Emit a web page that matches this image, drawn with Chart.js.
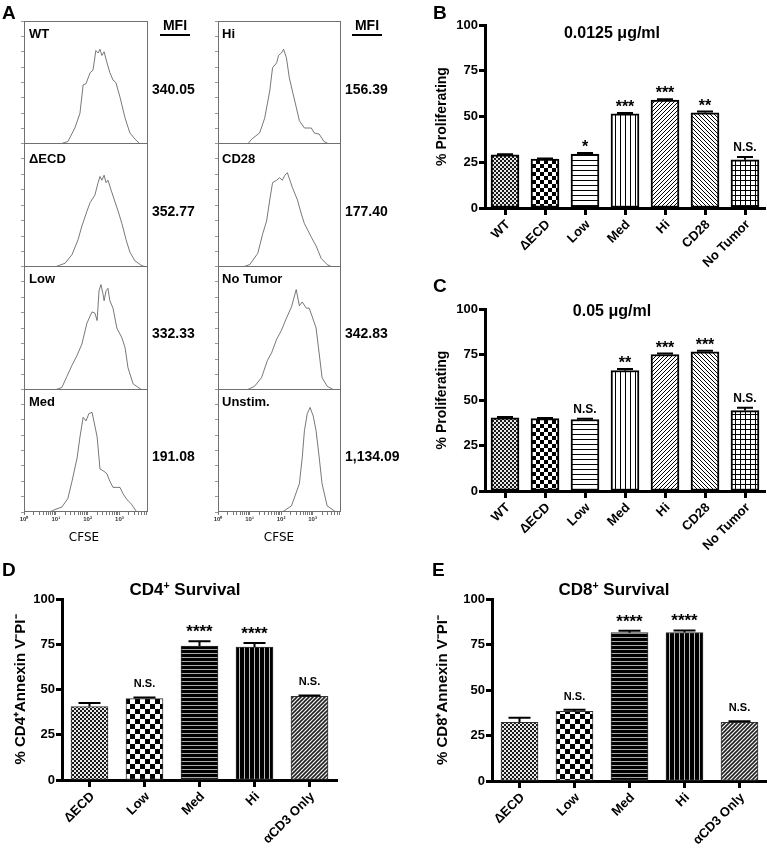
<!DOCTYPE html>
<html><head><meta charset="utf-8">
<script src="https://cdn.jsdelivr.net/npm/chart.js@4.4.1/dist/chart.umd.min.js"></script>
<style>
body{margin:0;background:#fff;width:767px;height:848px;position:relative;overflow:hidden;font-family:"Liberation Sans",Arial,sans-serif;}
.t{position:absolute;white-space:nowrap;line-height:1;color:#000;}
.t sup{font-size:62%;vertical-align:0;position:relative;top:-0.55em;}
canvas{position:absolute;}
.ul{position:absolute;height:2px;background:#000;}
</style></head><body>
<script>
// ---------------- DATA ----------------
// Panel A: CFSE histograms, x = log10(CFSE), y = relative count (0-100 of panel height)
const histWT = [[1.13,0],[1.38,2],[1.60,13],[1.76,25],[1.86,48],[1.95,49],[2.08,58],[2.17,60],[2.26,76],[2.33,74],[2.39,77],[2.45,72],[2.52,75],[2.61,66],[2.70,58],[2.80,52],[2.89,50],[3.02,38],[3.18,21],[3.33,9],[3.49,4],[3.65,0]];
const histDECD = [[0.97,0],[1.29,3],[1.51,10],[1.70,22],[1.82,33],[1.98,45],[2.08,52],[2.23,58],[2.33,68],[2.39,73],[2.45,70],[2.52,74],[2.58,68],[2.64,70],[2.74,62],[2.83,55],[2.96,45],[3.08,35],[3.21,22],[3.33,12],[3.49,5],[3.71,1],[3.87,0]];
const histLow = [[0.97,0],[1.19,2],[1.35,11],[1.51,20],[1.67,28],[1.82,37],[1.98,54],[2.14,63],[2.23,62],[2.30,56],[2.36,80],[2.42,85],[2.48,78],[2.52,72],[2.58,80],[2.64,82],[2.70,72],[2.80,66],[2.92,50],[3.08,42],[3.18,34],[3.27,18],[3.43,5],[3.71,0]];
const histMed = [[0.82,0],[0.97,2],[1.19,4],[1.38,11],[1.51,25],[1.67,44],[1.76,61],[1.86,77],[1.95,74],[2.04,80],[2.14,81],[2.23,70],[2.30,61],[2.39,35],[2.52,33],[2.61,31],[2.70,25],[2.80,20],[2.92,20],[3.02,20],[3.11,15],[3.24,10],[3.36,7],[3.55,0]];
const histHi = [[0.94,0],[1.07,4],[1.32,9],[1.48,21],[1.64,43],[1.73,62],[1.86,66],[1.92,72],[2.01,74],[2.08,77],[2.17,70],[2.26,54],[2.36,43],[2.48,30],[2.58,19],[2.74,13],[2.96,13],[3.05,9],[3.21,8],[3.36,2],[3.52,0]];
const histCD28 = [[0.79,0],[1.01,2],[1.26,11],[1.42,27],[1.54,37],[1.64,54],[1.73,68],[1.86,70],[1.95,72],[2.04,70],[2.12,74],[2.20,76],[2.28,70],[2.36,64],[2.52,54],[2.64,43],[2.74,35],[2.96,24],[3.11,17],[3.27,7],[3.46,2],[3.62,0]];
const histNoTumor = [[0.91,0],[1.16,3],[1.38,10],[1.57,24],[1.70,30],[1.86,41],[2.01,48],[2.17,58],[2.33,67],[2.48,81],[2.58,68],[2.67,71],[2.80,66],[2.89,66],[2.99,59],[3.11,50],[3.21,29],[3.30,10],[3.46,3],[3.68,0]];
const histUnstim = [[1.80,0],[2.04,0],[2.33,5],[2.58,23],[2.67,44],[2.74,66],[2.83,80],[2.92,85],[3.02,78],[3.11,66],[3.21,44],[3.30,23],[3.46,5],[3.74,0]];
const histNamesL = ['WT','ΔECD','Low','Med'];
const histNamesR = ['Hi','CD28','No Tumor','Unstim.'];
const mfiL = ['340.05','352.77','332.33','191.08'];
const mfiR = ['156.39','177.40','342.83','1,134.09'];
const decadeLabels = ['10\u2070','10\u00b9','10\u00b2','10\u00b3'];

// Panels B, C
const catsBC = ['WT','ΔECD','Low','Med','Hi','CD28','No Tumor'];
const valsB = [29, 26.8, 29.5, 51.4, 59, 52, 26.3];
const errB  = [0.4, 0.3, 0.5, 0.5, 0.4, 0.7, 1.6];
const sigB  = ['', '', '*', '***', '***', '**', 'N.S.'];
const valsC = [40.2, 39.8, 39.3, 66.2, 75, 76.5, 44.2];
const errC  = [0.5, 0.3, 0.4, 0.8, 0.5, 0.6, 1.5];
const sigC  = ['', '', 'N.S.', '**', '***', '***', 'N.S.'];
// Panels D, E
const catsDE = ['ΔECD','Low','Med','Hi','αCD3 Only'];
const valsD = [40.6, 45, 74, 73.5, 46.2];
const errD  = [2.0, 0.6, 2.7, 2.2, 0.5];
const sigD  = ['', 'N.S.', '****', '****', 'N.S.'];
const valsE = [32.3, 38.3, 81.5, 81.6, 32.3];
const errE  = [2.4, 0.8, 1.0, 1.1, 0.5];
const sigE  = ['', 'N.S.', '****', '****', 'N.S.'];
const yTicks = [0, 25, 50, 75, 100];

// ---------------- HELPERS ----------------
const FONT = '"Liberation Sans", Arial, Helvetica, sans-serif';
Chart.defaults.font.family = FONT;
Chart.defaults.color = '#000';

function txt(html, x, cy, size, weight, align, family) {
  const d = document.createElement('div');
  d.className = 't';
  d.innerHTML = html;
  d.style.fontSize = size + 'px';
  d.style.fontWeight = weight;
  if (family) d.style.fontFamily = family;
  d.style.left = x + 'px';
  d.style.top = cy + 'px';
  const tx = align === 'center' ? '-50%' : align === 'right' ? '-100%' : '0';
  d.style.transform = `translate(${tx},-50%)`;
  document.body.appendChild(d);
}
function rule(x, y, w) {
  const d = document.createElement('div');
  d.className = 'ul';
  d.style.left = x + 'px'; d.style.top = y + 'px'; d.style.width = w + 'px';
  document.body.appendChild(d);
}
function mkCanvas(left, top, w, h) {
  const c = document.createElement('canvas');
  c.width = w; c.height = h;
  c.style.left = left + 'px'; c.style.top = top + 'px';
  document.body.appendChild(c);
  return c;
}

function pattern(kind) {
  const c = document.createElement('canvas');
  const x = c.getContext('2d');
  let s;
  const diag = (s, lw, col, up) => {
    x.strokeStyle = col; x.lineWidth = lw; x.beginPath();
    if (up) {
      x.moveTo(0, s); x.lineTo(s, 0);
      x.moveTo(-1, 1); x.lineTo(1, -1);
      x.moveTo(s - 1, s + 1); x.lineTo(s + 1, s - 1);
    } else {
      x.moveTo(0, 0); x.lineTo(s, s);
      x.moveTo(-1, s - 1); x.lineTo(1, s + 1);
      x.moveTo(s - 1, -1); x.lineTo(s + 1, 1);
    }
    x.stroke();
  };
  switch (kind) {
    case 'fine':
      s = 4; c.width = c.height = s;
      x.fillStyle = '#e8e8e8'; x.fillRect(0, 0, s, s);
      x.fillStyle = '#1a1a1a'; x.fillRect(0, 0, 2, 2); x.fillRect(2, 2, 2, 2);
      break;
    case 'checker4':
      s = 8; c.width = c.height = s;
      x.fillStyle = '#fff'; x.fillRect(0, 0, s, s);
      x.fillStyle = '#000'; x.fillRect(0, 0, 4, 4); x.fillRect(4, 4, 4, 4);
      break;
    case 'checker5':
      s = 10; c.width = c.height = s;
      x.fillStyle = '#fff'; x.fillRect(0, 0, s, s);
      x.fillStyle = '#000'; x.fillRect(0, 0, 5, 5); x.fillRect(5, 5, 5, 5);
      break;
    case 'hlines':
      s = 5; c.width = c.height = s;
      x.fillStyle = '#fff'; x.fillRect(0, 0, s, s);
      x.fillStyle = '#000'; x.fillRect(0, 0, s, 1);
      break;
    case 'vlines':
      s = 5; c.width = c.height = s;
      x.fillStyle = '#fff'; x.fillRect(0, 0, s, s);
      x.fillStyle = '#000'; x.fillRect(0, 0, 1, s);
      break;
    case 'grid':
      s = 5; c.width = c.height = s;
      x.fillStyle = '#fff'; x.fillRect(0, 0, s, s);
      x.fillStyle = '#000'; x.fillRect(0, 0, s, 1); x.fillRect(0, 0, 1, s);
      break;
    case 'diagUp':
      s = 4; c.width = c.height = s;
      x.fillStyle = '#fff'; x.fillRect(0, 0, s, s);
      diag(s, 1, '#000', true);
      break;
    case 'diagDown':
      s = 4; c.width = c.height = s;
      x.fillStyle = '#fff'; x.fillRect(0, 0, s, s);
      diag(s, 1, '#000', false);
      break;
    case 'hstripes':
      s = 4; c.width = c.height = s;
      x.fillStyle = '#000'; x.fillRect(0, 0, s, s);
      x.fillStyle = '#aaa'; x.fillRect(0, 3, s, 1);
      break;
    case 'vstripes':
      s = 5; c.width = c.height = s;
      x.fillStyle = '#000'; x.fillRect(0, 0, s, s);
      x.fillStyle = '#bbb'; x.fillRect(4, 0, 1, s);
      break;
    case 'diagDark':
      s = 4; c.width = c.height = s;
      x.fillStyle = '#f4f4f4'; x.fillRect(0, 0, s, s);
      diag(s, 1.6, '#222', true);
      break;
  }
  return x.createPattern(c, 'repeat');
}

// ---------------- PANEL A ----------------
const framePlugin = {
  id: 'frame',
  afterDraw(chart) {
    const { ctx, chartArea: a } = chart;
    ctx.save();
    ctx.strokeStyle = '#707070'; ctx.lineWidth = 1;
    ctx.strokeRect(Math.round(a.left) + 0.5, Math.round(a.top) + 0.5,
      Math.round(a.right - a.left) - 1, Math.round(a.bottom - a.top) - 1);
    ctx.restore();
  }
};
const decadeTicks = [];
for (let d = 0; d <= 3; d++) for (let k = 1; k <= 9; k++) {
  const v = d + Math.log10(k);
  if (v <= 3.9) decadeTicks.push(v);
}
function hist(data, left, top, areaH, bottom, padR) {
  const xh = bottom ? 22 : 0;
  const c = mkCanvas(left, top, 140, areaH + xh);
  new Chart(c, {
    type: 'line',
    data: { datasets: [{ data: data.map(p => ({ x: p[0], y: p[1] })), borderColor: '#555', borderWidth: 0.8, pointRadius: 0, tension: 0, fill: false }] },
    options: {
      responsive: false, animation: false, events: [],
      layout: { padding: { left: 0, right: padR, top: 0, bottom: 0 } },
      plugins: { legend: { display: false }, tooltip: { enabled: false } },
      scales: {
        x: {
          type: 'linear', min: 0, max: 3.9,
          border: { display: false },
          grid: { drawOnChartArea: false, drawTicks: bottom, tickLength: 3, color: '#777' },
          ticks: {
            display: bottom, autoSkip: false, maxRotation: 0, minRotation: 0, padding: 1,
            font: { size: 6, weight: 'bold' }, color: '#333',
            callback: v => (Math.abs(v - Math.round(v)) < 1e-9 ? decadeLabels[Math.round(v)] : '')
          },
          afterBuildTicks: s => { s.ticks = decadeTicks.map(v => ({ value: v })); },
          afterFit: s => { s.height = xh; }
        },
        y: {
          min: 0, max: 100,
          border: { display: false },
          grid: { drawOnChartArea: false, tickLength: 3, color: '#999' },
          ticks: { display: false, stepSize: 12.5 },
          afterFit: s => { s.width = 10; }
        }
      }
    },
    plugins: [framePlugin]
  });
}
const bounds = [21, 143, 266, 389, 511];
const histL = [histWT, histDECD, histLow, histMed];
const histR = [histHi, histCD28, histNoTumor, histUnstim];
const labelCY = [33, 158, 278, 401];
const mfiCY = [89, 211, 333, 456];
for (let i = 0; i < 4; i++) {
  const h = bounds[i + 1] - bounds[i] + 1;
  hist(histL[i], 14, bounds[i], h, i === 3, 6);
  hist(histR[i], 208, bounds[i], h, i === 3, 7);
  txt(histNamesL[i], 29, labelCY[i], 13, 'bold', 'left');
  txt(histNamesR[i], 222, labelCY[i], 13, 'bold', 'left');
  txt(mfiL[i], 152, mfiCY[i], 14, 'bold', 'left');
  txt(mfiR[i], 345, mfiCY[i], 14, 'bold', 'left');
}
txt('MFI', 175, 25, 14, 'bold', 'center');
rule(160, 34, 30);
txt('MFI', 367, 25, 14, 'bold', 'center');
rule(352, 34, 30);
txt('CFSE', 84, 537, 12, 'normal', 'center', '"DejaVu Sans", sans-serif');
txt('CFSE', 279, 537, 12, 'normal', 'center', '"DejaVu Sans", sans-serif');

// ---------------- BAR PANELS ----------------
const errPlugin = {
  id: 'errbars',
  afterDatasetsDraw(chart, args, o) {
    const ds = chart.data.datasets[0], meta = chart.getDatasetMeta(0), ys = chart.scales.y, ctx = chart.ctx;
    ctx.save();
    meta.data.forEach((el, i) => {
      const e = ds.errors[i], v = ds.data[i];
      const yTop = ys.getPixelForValue(v + e), yBar = ys.getPixelForValue(v);
      ctx.strokeStyle = '#000'; ctx.lineWidth = o.lw;
      ctx.beginPath();
      ctx.moveTo(el.x, yBar); ctx.lineTo(el.x, yTop);
      ctx.moveTo(el.x - o.cap / 2, yTop); ctx.lineTo(el.x + o.cap / 2, yTop);
      ctx.stroke();
      const s = ds.sig[i];
      if (s) {
        const star = s.indexOf('*') >= 0;
        const size = star ? o.star : o.ns;
        ctx.font = `bold ${size}px ${FONT}`;
        ctx.fillStyle = '#000'; ctx.textAlign = 'center'; ctx.textBaseline = 'alphabetic';
        const cy = yTop - o.gap;
        ctx.fillText(s, el.x, cy + (star ? 0.57 : 0.36) * size);
      }
    });
    ctx.restore();
  }
};

function barChart(p) {
  const c = mkCanvas(p.left, p.top, p.width, p.height);
  new Chart(c, {
    type: 'bar',
    data: {
      labels: p.cats,
      datasets: [{
        data: p.vals, errors: p.errs, sig: p.sigs,
        backgroundColor: p.pats.map(pattern),
        borderColor: p.bc, borderWidth: p.bw, barThickness: p.bt, borderSkipped: false
      }]
    },
    options: {
      responsive: false, animation: false, events: [],
      layout: { padding: { left: p.padL, right: p.padR, top: p.padT, bottom: 0 } },
      plugins: {
        legend: { display: false }, tooltip: { enabled: false },
        errbars: { lw: 2, cap: p.cap, gap: p.gap, star: p.star, ns: p.ns }
      },
      scales: {
        x: {
          grid: { offset: false, drawOnChartArea: false, tickLength: 7, tickWidth: 3, color: '#000' },
          border: { width: 3, color: '#000' },
          ticks: { font: { size: 13, weight: 'bold' }, color: '#000', minRotation: 45, maxRotation: 45, padding: 2, autoSkip: false, labelOffset: 3 },
          afterFit: s => { s.height = p.xH; }
        },
        y: {
          min: 0, max: 100,
          afterBuildTicks: s => { s.ticks = yTicks.map(v => ({ value: v })); },
          ticks: { font: { size: 13, weight: 'bold' }, color: '#000', padding: 1 },
          grid: { drawOnChartArea: false, tickLength: 6, tickWidth: 3, color: '#000' },
          border: { width: 3, color: '#000' },
          title: { display: true, text: p.yTitle, font: { size: p.yTitleSize, weight: 'bold' }, color: '#000', padding: { top: 4, bottom: 0 } },
          afterFit: s => { s.width = p.yW; }
        }
      }
    },
    plugins: [errPlugin]
  });
}

const patsBC = ['fine', 'checker4', 'hlines', 'vlines', 'diagUp', 'diagDown', 'grid'];
const patsDE = ['fine', 'checker5', 'hstripes', 'vstripes', 'diagDark'];

barChart({ left: 400, top: 0, width: 367, height: 280, padL: 30, padR: 2, padT: 25, yW: 55, xH: 72,
  cats: catsBC, vals: valsB, errs: errB, sigs: sigB, pats: patsBC, bc: '#000', bw: 2, bt: 28,
  cap: 16, gap: 10, star: 16, ns: 12, yTitle: '% Proliferating', yTitleSize: 14 });
barChart({ left: 400, top: 284, width: 367, height: 279, padL: 30, padR: 2, padT: 25, yW: 55, xH: 72,
  cats: catsBC, vals: valsC, errs: errC, sigs: sigC, pats: patsBC, bc: '#000', bw: 2, bt: 28,
  cap: 16, gap: 10, star: 16, ns: 12, yTitle: '% Proliferating', yTitleSize: 14 });
barChart({ left: 0, top: 574, width: 345, height: 274, padL: 8, padR: 8, padT: 25, yW: 54, xH: 68,
  cats: catsDE, vals: valsD, errs: errD, sigs: sigD, pats: patsDE, bc: '#333', bw: 1, bt: 37,
  cap: 22, gap: 14, star: 17, ns: 11, yTitle: '% CD4\u207AAnnexin V\u207BPI\u207B', yTitleSize: 15 });
barChart({ left: 430, top: 574, width: 337, height: 274, padL: 0, padR: 0, padT: 25, yW: 62, xH: 67,
  cats: catsDE, vals: valsE, errs: errE, sigs: sigE, pats: patsDE, bc: '#333', bw: 1, bt: 37,
  cap: 22, gap: 14, star: 17, ns: 11, yTitle: '% CD8\u207AAnnexin V\u207BPI\u207B', yTitleSize: 15 });

// ---------------- TEXT ----------------
txt('A', 2, 12, 19, 'bold', 'left');
txt('B', 433, 12, 19, 'bold', 'left');
txt('C', 433, 285, 19, 'bold', 'left');
txt('D', 2, 569, 19, 'bold', 'left');
txt('E', 432, 569, 19, 'bold', 'left');
txt('0.0125 \u03bcg/ml', 612, 33, 16, 'bold', 'center');
txt('0.05 \u03bcg/ml', 612, 311, 16, 'bold', 'center');
txt('CD4<sup>+</sup> Survival', 185, 589, 17, 'bold', 'center');
txt('CD8<sup>+</sup> Survival', 614, 589, 17, 'bold', 'center');
</script>
</body></html>
